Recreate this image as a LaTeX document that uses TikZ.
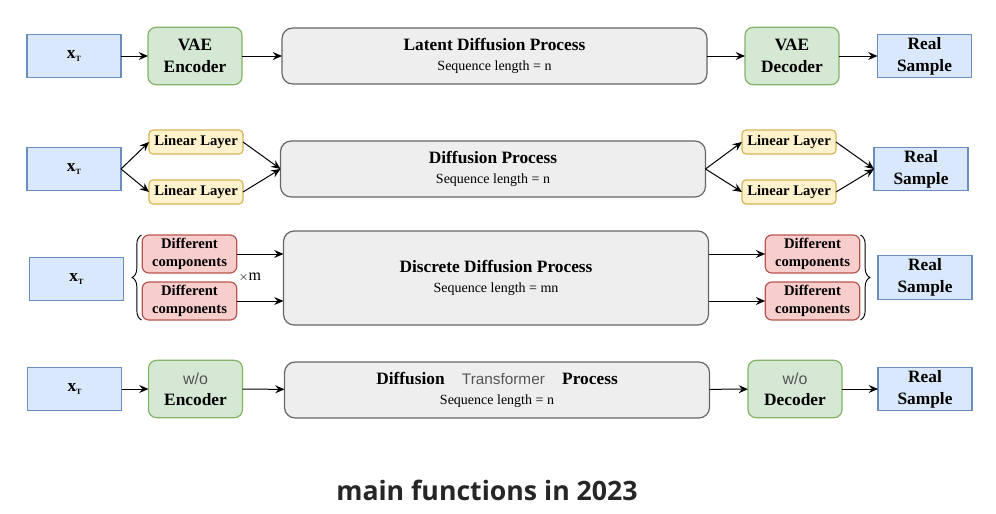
\documentclass[tikz,border=0pt]{standalone}
\usepackage{fontspec}
\setmainfont{Liberation Serif}
\setsansfont{Liberation Sans}
\newfontfamily\titlefont{Open Sans}
\usetikzlibrary{positioning}
\usetikzlibrary{arrows.meta}
\usetikzlibrary{decorations.pathreplacing}
\definecolor{blueF}{HTML}{DAE8FC}
\definecolor{blueD}{HTML}{6C8EBF}
\definecolor{greenF}{HTML}{D5E8D4}
\definecolor{greenD}{HTML}{82B366}
\definecolor{yellowF}{HTML}{FFF2CC}
\definecolor{yellowD}{HTML}{D6B656}
\definecolor{redF}{HTML}{F8CECC}
\definecolor{redD}{HTML}{B85450}
\definecolor{grayF}{HTML}{EEEEEE}
\definecolor{grayD}{HTML}{666666}
\definecolor{wogray}{HTML}{555555}
\definecolor{titlegray}{HTML}{262626}
\newcommand{\xtee}{x\raisebox{-0.4ex}{\fontsize{6}{6}\selectfont T}}
\newcommand{\wo}{{\sffamily\mdseries\fontsize{12}{13}\selectfont\color{wogray}w/o}}
\newcommand{\seqfont}{\mdseries\fontsize{10.5}{12}\selectfont}
\tikzset{basic/.style={draw,line width=0.9pt,outer sep=0pt,inner sep=1pt,align=center,font=\bfseries\fontsize{13}{16.5}\selectfont}}
\tikzset{sample/.style={basic,rectangle,fill=blueF,draw=blueD,minimum width=70.5pt,minimum height=32.5pt}}
\tikzset{coder/.style={basic,rounded corners=6pt,fill=greenF,draw=greenD,minimum width=70.5pt,minimum height=43pt}}
\tikzset{process/.style={basic,rounded corners=8pt,fill=grayF,draw=grayD,minimum width=318.75pt,minimum height=42pt}}
\tikzset{linear/.style={basic,rounded corners=3pt,fill=yellowF,draw=yellowD,minimum width=70.5pt,minimum height=18pt,font=\bfseries\fontsize{11}{13}\selectfont}}
\tikzset{parts/.style={basic,rounded corners=5pt,fill=redF,draw=redD,minimum width=71pt,minimum height=28.5pt,font=\bfseries\fontsize{11}{14}\selectfont}}
\tikzset{arr/.style={line width=0.75pt,-{Stealth[length=7pt,width=6pt,inset=2.5pt]}}}
\tikzset{curly/.style={line width=0.7pt,decorate,decoration={brace,amplitude=7pt}}}

\begin{document}
\begin{tikzpicture}[x=0.75pt,y=-0.75pt]
    \useasboundingbox (0,0) rectangle (996,514);
    % row 1: VAE
    \node[sample] (x1) at (74,56) {\xtee};
    \node[coder] (enc1) at (195,56) {VAE\\Encoder};
    \node[process] (p1) at (494.5,56) {Latent Diffusion Process\\[-2pt]{\seqfont Sequence length = n}};
    \node[coder] (dec1) at (792,56) {VAE\\Decoder};
    \node[sample] (r1) at (924.5,56) {Real\\Sample};
        \draw[arr] (x1) -- (enc1);
        \draw[arr] (enc1) -- (p1);
        \draw[arr] (p1) -- (dec1);
        \draw[arr] (dec1) -- (r1);
    % row 2: linear layers
    \node[sample] (x2) at (74,169) {\xtee};
    \node[linear] (l1) at (196,142) {Linear Layer};
    \node[linear,below=19.5pt of l1] (l2) {Linear Layer};
    \node[process] (p2) at (493,169) {Diffusion Process\\[-2pt]{\seqfont Sequence length = n}};
    \node[linear] (l3) at (789,142) {Linear Layer};
    \node[linear,below=19.5pt of l3] (l4) {Linear Layer};
    \node[sample] (r2) at (921,169) {Real\\Sample};
        \draw[arr] (x2.east) -- (l1.west);
        \draw[arr] (x2.east) -- (l2.west);
        \draw[arr] (l1.east) -- (p2.west);
        \draw[arr] (l2.east) -- (p2.west);
        \draw[arr] (p2.east) -- (l3.west);
        \draw[arr] (p2.east) -- (l4.west);
        \draw[arr] (l3.east) -- (r2.west);
        \draw[arr] (l4.east) -- (r2.west);
    % row 3: discrete components
    \node[sample] (x3) at (76.5,279) {\xtee};
    \node[parts] (c1) at (189.5,254) {Different\\components};
    \node[parts,below=6.75pt of c1] (c2) {Different\\components};
    \node[process,minimum height=70.5pt] (p3) at (496,278) {Discrete Diffusion Process\\[-2pt]{\seqfont Sequence length = mn}};
    \node[parts] (c3) at (812.5,254) {Different\\components};
    \node[parts,below=6.75pt of c3] (c4) {Different\\components};
    \node[sample] (r3) at (925,277.5) {Real\\Sample};
    \node[font=\fontsize{12}{12}\selectfont] (times) at (250,277) {{\fontsize{9}{9}\selectfont$\times$}m};
        \draw[curly] ([xshift=-0.5pt]c2.south west) -- ([xshift=-0.5pt]c1.north west);
        \draw[curly] ([xshift=0.5pt]c3.north east) -- ([xshift=0.5pt]c4.south east);
        \draw[arr] (c1.east) -- (c1.east -| p3.west);
        \draw[arr] (c2.east) -- (c2.east -| p3.west);
        \draw[arr] (c3.west -| p3.east) -- (c3.west);
        \draw[arr] (c4.west -| p3.east) -- (c4.west);
    % row 4: no coder
    \node[sample] (x4) at (74.5,389) {\xtee};
    \node[coder] (enc4) at (195.5,389) {\wo\\[-1pt]Encoder};
    \node[process] (p4) at (497,390) {Diffusion\quad{\sffamily\mdseries\fontsize{11.5}{13}\selectfont\color{wogray}Transformer}\quad Process\\[-2pt]{\seqfont Sequence length = n}};
    \node[coder] (dec4) at (795,389) {\wo\\[-1pt]Decoder};
    \node[sample] (r4) at (925,389) {Real\\Sample};
        \draw[arr] (x4) -- (enc4);
        \draw[arr] (enc4) -- (p4);
        \draw[arr] (p4) -- (dec4);
        \draw[arr] (dec4) -- (r4);
    \node[font=\titlefont\bfseries\fontsize{20}{24}\selectfont,text=titlegray] (title) at (487,490) {main functions in 2023};
\end{tikzpicture}
\end{document}
